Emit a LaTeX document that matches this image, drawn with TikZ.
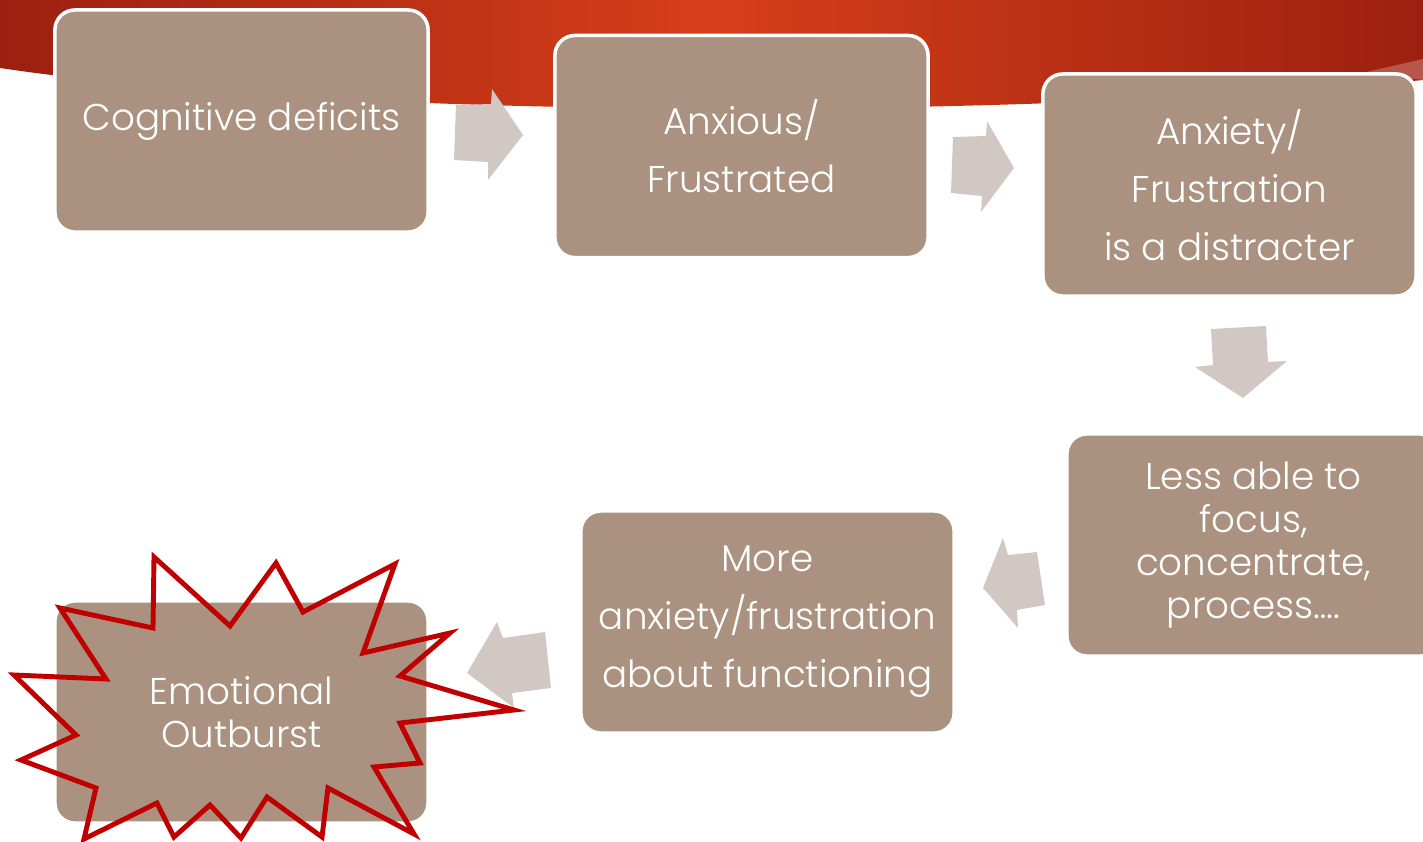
\documentclass[tikz,border=0pt]{standalone}
\usepackage{fontspec}
\setmainfont{Poppins Light}
\usetikzlibrary{positioning}
\definecolor{boxbrown}{HTML}{AB9280}
\definecolor{arrowgray}{HTML}{D2C8C3}
\definecolor{burstred}{HTML}{C00000}
\definecolor{bannerdark}{HTML}{9C2010}
\definecolor{bannerlight}{HTML}{D63F19}
\definecolor{bannerstreak}{HTML}{B5574A}

\begin{document}
\begin{tikzpicture}[x=0.01cm,y=-0.01cm]
    \tikzset{stepbox/.style={draw=white,line width=1pt,fill=boxbrown,rectangle,rounded corners=0.2cm,
        minimum width=3.73cm,minimum height=2.22cm,inner sep=2pt,align=center,text=white,
        font=\fontsize{10.6}{16.5}\selectfont},
      tightbox/.style={stepbox,font=\fontsize{10.6}{12.2}\selectfont},
      blockarrow/.style={fill=arrowgray},
      burst/.style={draw=burstred,line width=1.4pt}}
    \useasboundingbox (0,0) rectangle (1423,842);
    % red banner
    \shade[left color=bannerdark,right color=bannerdark,middle color=bannerlight]
      (0,0) -- (1423,0) -- (1423,80) .. controls (1000,120) and (350,120) .. (0,68) -- cycle;
    \fill[bannerstreak] (1362,73) -- (1423,59) -- (1423,80) -- cycle;
    % boxes
    \node[stepbox] (cog) at (241.5,121) {Cognitive deficits};
    \node[stepbox] (anx) at (741.5,146.5) {Anxious/\\Frustrated};
    \node[stepbox] (dis) at (1229.5,185) {Anxiety/\\Frustration\\is a distracter};
    \node[tightbox] (foc) at (1253.5,545) {Less able to\\focus,\\concentrate,\\process\dots.};
    \node[stepbox] (more) at (767.5,622) {More\\anxiety/frustration\\about functioning};
    \node[tightbox] (out) at (241.5,712) {Emotional\\Outburst};
    % block arrows
    \fill[blockarrow] (456,105) -- (491,104) -- (492,89) -- (523,135) -- (488,180) -- (488,162) -- (454,160) -- cycle;
    \fill[blockarrow] (953,137) -- (986,136) -- (987,121) -- (1014,168) -- (981,212) -- (982,196) -- (951,193) -- cycle;
    \fill[blockarrow] (1211,329) -- (1266,326) -- (1268,362) -- (1287,361) -- (1243,398) -- (1195,367) -- (1213,365) -- cycle;
    \fill[blockarrow] (1003,538) -- (1008,555) -- (1037,552) -- (1045,605) -- (1017,610) -- (1018,628) -- (983,588) -- cycle;
    \fill[blockarrow] (497,622) -- (503,638) -- (545,632) -- (551,688) -- (512,693) -- (514,708) -- (467,673) -- cycle;
    % starburst
    \draw[burst] (60,608) -- (153,628) -- (154,557) -- (230,626) -- (276,563) -- (303,612)
      -- (395,564) -- (363,653) -- (450,633) -- (400,676) -- (514,710) -- (400,723)
      -- (420,763) -- (374,767) -- (414,834) -- (328,788) -- (322,837) -- (267,797)
      -- (241,838) -- (210,805) -- (174,837) -- (157,803) -- (84,839) -- (96,788)
      -- (21,760) -- (76,735) -- (14,675) -- (106,679) -- cycle;
  \end{tikzpicture}
\end{document}
